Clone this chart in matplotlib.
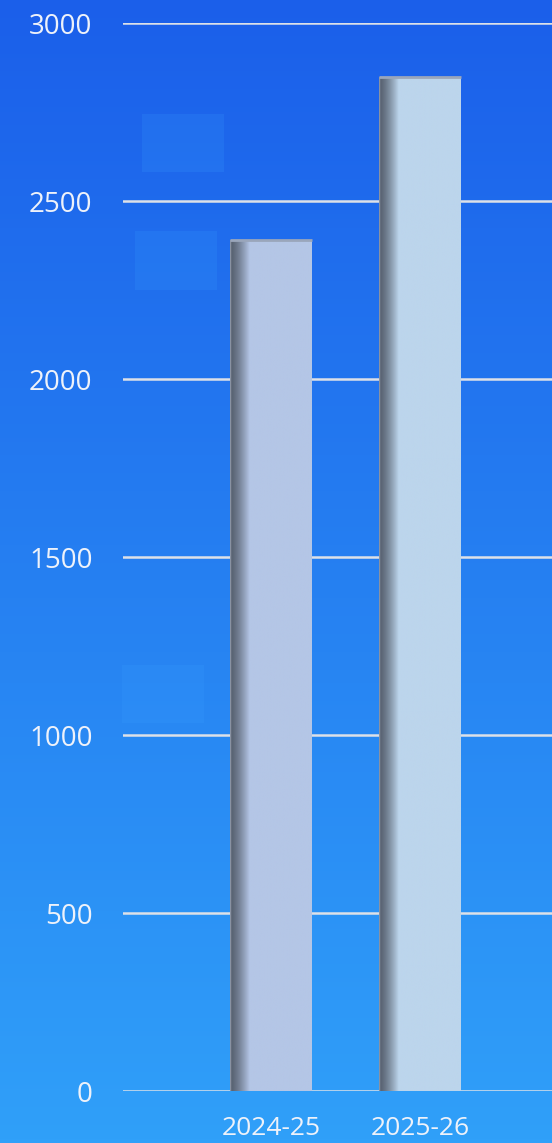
import numpy as np
import matplotlib
matplotlib.use("Agg")
import matplotlib.pyplot as plt
from matplotlib.colors import to_rgb
from matplotlib.patches import Rectangle

years = ["2024-25", "2025-26"]
values = [2390, 2848]
bar_colors = ["#b4c6e6", "#bcd5ec"]
yticks = [0, 500, 1000, 1500, 2000, 2500, 3000]

plt.rcParams['font.family'] = ['Open Sans', 'DejaVu Sans']

W, H = 552, 1143
fig = plt.figure(figsize=(W / 100, H / 100), dpi=100)

# background gradient
bg = fig.add_axes([0, 0, 1, 1])
top_c = np.array(to_rgb("#1b5fea"))
bot_c = np.array(to_rgb("#30a0f9"))
t = np.linspace(0, 1, 256)[:, None, None]
grad = top_c * (1 - t) + bot_c * t
bg.imshow(grad, aspect='auto', extent=[0, 1, 0, 1])
bg.set_xlim(0, 1)
bg.set_ylim(0, 1)
bg.axis('off')

# faint rectangles in the background
for (x0, y0, x1, y1) in [(142, 114, 224, 172), (135, 231, 217, 290), (122, 665, 204, 723)]:
    bg.add_patch(Rectangle((x0 / W, 1 - y1 / H), (x1 - x0) / W, (y1 - y0) / H,
                           facecolor='#3aa0ff', alpha=0.18, edgecolor='none'))

ax = fig.add_axes([123 / W, 1 - 1091 / H, 1 - 123 / W, (1091 - 23) / H])
ax.set_facecolor('none')
ax.set_yticks(yticks)
ax.yaxis.grid(True, color='#dde1e8', linewidth=1.8)
ax.set_axisbelow(True)
for s in ax.spines.values():
    s.set_visible(False)
ax.tick_params(axis='both', length=0, labelcolor='#eef2fa', labelsize=20)
ax.tick_params(axis='y', pad=22)
ax.tick_params(axis='x', pad=18, labelsize=19)
ax.set_xticks(range(len(years)))
ax.set_xticklabels(years)

bw = 0.55
bars = ax.bar(range(len(years)), values, width=bw, color=bar_colors, zorder=2)
for b, c in zip(bars, bar_colors):
    face = np.array(to_rgb(c))
    dark = np.array(to_rgb("#56606f"))
    n = 200
    x = np.linspace(0, 1, n)
    w = np.clip(x / 0.24, 0, 1) ** 1.4
    row = dark * (1 - w[:, None]) + face * w[:, None]
    row[:3] = np.array(to_rgb("#8a93a3"))
    img = np.repeat(row[None, :, :], 4, axis=0)
    x0 = b.get_x()
    ax.imshow(img, extent=[x0, x0 + b.get_width(), 0, b.get_height()],
              aspect='auto', zorder=3)
    ax.plot([x0, x0 + b.get_width()], [b.get_height()] * 2,
            color='#9aa6bb', lw=2, zorder=4, solid_capstyle='butt')

ax.set_xlim(-0.993, 1.886)
ax.set_ylim(0, 3000)

fig.savefig("out.png", dpi=100)
